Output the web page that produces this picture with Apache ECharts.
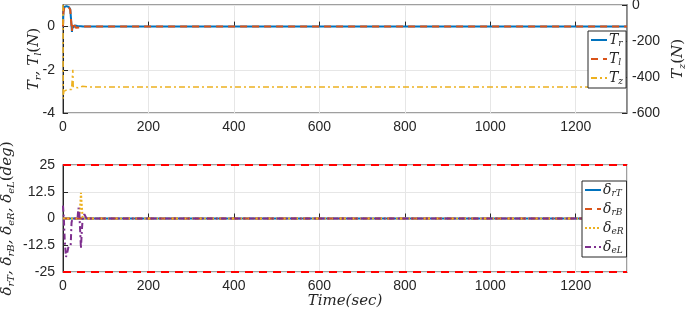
<!DOCTYPE html>
<html><head><meta charset="utf-8">
<script src="https://cdn.jsdelivr.net/npm/echarts@6/dist/echarts.min.js"></script>
<style>html,body{margin:0;padding:0;background:#fff}#c{width:685px;height:313px}</style>
</head><body><div id="c"></div>
<script>
// ---- data ----
const xTicks = [0, 200, 400, 600, 800, 1000, 1200];
const tT = [0, 1, 3, 8, 14, 17, 19, 21, 22, 24, 27, 30, 34, 38, 42, 47, 55, 1320];
const Tr = [0, 0.7, 0.9, 0.95, 0.9, 0.8, 0.3, -0.25, 0.05, -0.05, 0.05, -0.03, 0.03, -0.03, 0.02, 0, 0, 0];
const Tl = [0, 0.65, 0.88, 0.93, 0.88, 0.78, 0.25, -0.2, 0.08, -0.08, 0.06, -0.05, 0.04, -0.04, 0.03, 0, 0, 0];
const tZ = [0, 0.5, 2, 10, 20, 22, 23, 24, 28, 35, 45, 60, 1320];
const Tz = [0, -520, -480, -470, -470, -460, -360, -455, -448, -460, -452, -455, -455];
const tD = [0, 2, 4, 7, 10, 13, 18, 20, 22, 34, 36, 38, 40, 42, 44, 46, 47, 50, 55, 1320];
const dRT = [0, 0, 0, 0, 0, 0, 0, 0, 0, 0, 0, 0, 0, 0, 0, 0, 0, 0, 0, 0];
const dRB = [0, 0, 0, 0, 0, 0, 0, 0, 0, 0, 0, 0, 0, 0, 0, 0, 0, 0, 0, 0];
const dER = [0, 0, 0, 0, 0, 0, 0, 0, 0, 0, 0, 1, 5, 12, 6, 0, 0, 0, 0, 0];
const dEL = [6, 0, -10, -18, -16, -13, -12.5, -2, 0, 0, 5, 3, -5, -14, -6, 0, 1, 2, 0, 0];
const tLim = [0, 1320];
const upper = [25, 25];
const lower = [-25, -25];

const pair = (t, v) => t.map((x, i) => [x, v[i]]);
const blue = '#0072BD', orange = '#D95319', yellow = '#EDB120', purple = '#7E2F8E';
const axisCol = '#262626', frameCol = '#808080';
const tickFont = {fontFamily: 'Liberation Sans', fontSize: 14, color: axisCol};
const plain = v => String(v);
const rich = {
  i: {fontFamily: 'DejaVu Serif', fontStyle: 'italic', fontSize: 15, color: axisCol},
  s: {fontFamily: 'DejaVu Serif', fontStyle: 'italic', fontSize: 10, color: axisCol, verticalAlign: 'bottom', padding: [8, 0, 0, 0]},
  n: {fontFamily: 'DejaVu Serif', fontSize: 15, color: axisCol}
};
const legRich = {
  i: {fontFamily: 'DejaVu Serif', fontStyle: 'italic', fontSize: 14, color: axisCol},
  s: {fontFamily: 'DejaVu Serif', fontStyle: 'italic', fontSize: 9, color: axisCol, verticalAlign: 'bottom', padding: [7, 0, 0, 0]}
};
const legNames = {
  'Tr': '{i|T}{s|r}', 'Tl': '{i|T}{s|l}', 'Tz': '{i|T}{s|z}',
  'drT': '{i|δ}{s|rT}', 'drB': '{i|δ}{s|rB}', 'deR': '{i|δ}{s|eR}', 'deL': '{i|δ}{s|eL}'
};
const xAxisBase = (gi, showName) => ({
  type: 'value', gridIndex: gi, min: 0, max: 1320, interval: 200,
  axisLine: {show: false}, axisTick: {show: true, inside: true, length: 5, lineStyle: {color: axisCol}},
  axisLabel: Object.assign({margin: 7, showMaxLabel: false, formatter: plain}, tickFont),
  splitLine: {show: true, lineStyle: {color: '#e6e6e6', width: 1}},
  name: showName ? '{i|Time(sec)}' : '', nameLocation: 'middle', nameGap: 22, nameMoveOverlap: false,
  nameTextStyle: {rich: rich}
});
const legendBase = {
  orient: 'vertical', itemGap: 4, itemWidth: 16, itemHeight: 10,
  padding: [2, 3, 2, 2], borderColor: axisCol, borderWidth: 1, backgroundColor: '#fff',
  itemStyle: {opacity: 0},
  formatter: n => legNames[n], textStyle: {rich: legRich, padding: [0, 0, 0, -3]}
};
const chart = echarts.init(document.getElementById('c'), null, {renderer: 'canvas'});
chart.setOption({
  animation: false,
  grid: [
    {left: 63, right: 58, top: 5, height: 108, show: true, borderColor: frameCol, borderWidth: 1.5, backgroundColor: 'transparent', containLabel: false, outerBoundsMode: 'none'},
    {left: 63, right: 58, top: 165, height: 107, show: true, borderColor: frameCol, borderWidth: 1.5, backgroundColor: 'transparent', containLabel: false, outerBoundsMode: 'none'}
  ],
  xAxis: [xAxisBase(0, false), xAxisBase(1, true)],
  yAxis: [
    {type: 'value', gridIndex: 0, min: -4, max: 1, interval: 2, position: 'left',
     axisLine: {show: true, lineStyle: {color: axisCol, width: 1}},
     axisTick: {show: true, inside: true, length: 5, lineStyle: {color: axisCol}},
     axisLabel: Object.assign({margin: 8, showMaxLabel: false}, tickFont),
     splitLine: {show: true, lineStyle: {color: '#e6e6e6'}},
     name: '{i|T}{s|r}{i|, T}{s|l}{n|(}{i|N}{n|)}', nameLocation: 'middle', nameGap: 20, nameRotate: 90, nameMoveOverlap: false,
     nameTextStyle: {rich: rich}},
    {type: 'value', gridIndex: 0, min: -600, max: 0, interval: 200, position: 'right',
     axisLine: {show: true, lineStyle: {color: frameCol, width: 1.5}},
     axisTick: {show: true, inside: true, length: 5, lineStyle: {color: axisCol}},
     axisLabel: Object.assign({margin: 5}, tickFont),
     splitLine: {show: false},
     name: '{i|T}{s|z}{n|(}{i|N}{n|)}', nameLocation: 'middle', nameGap: 42, nameRotate: 90, nameMoveOverlap: false,
     nameTextStyle: {rich: rich}},
    {type: 'value', gridIndex: 1, min: -25, max: 25, interval: 12.5,
     axisLine: {show: true, lineStyle: {color: axisCol, width: 1}},
     axisTick: {show: true, inside: true, length: 5, lineStyle: {color: axisCol}},
     axisLabel: Object.assign({margin: 8}, tickFont),
     splitLine: {show: true, lineStyle: {color: '#e6e6e6'}},
     name: '{i|δ}{s|rT}{i|, δ}{s|rB}{i|, δ}{s|eR}{i|, δ}{s|eL}{n|(}{i|deg}{n|)}', nameLocation: 'middle', nameGap: 47, nameRotate: 90, nameMoveOverlap: false,
     nameTextStyle: {rich: rich}}
  ],
  legend: [
    Object.assign({data: ['Tr', 'Tl', 'Tz'], left: 588, top: 31}, legendBase),
    Object.assign({data: ['drT', 'drB', 'deR', 'deL'], left: 582, top: 181}, legendBase)
  ],
  series: [
    {name: 'Tr', type: 'line', xAxisIndex: 0, yAxisIndex: 0, data: pair(tT, Tr), showSymbol: false, symbol: 'none',
     lineStyle: {color: blue, width: 2}, itemStyle: {color: blue}},
    {name: 'Tl', type: 'line', xAxisIndex: 0, yAxisIndex: 0, data: pair(tT, Tl), showSymbol: false, symbol: 'none',
     lineStyle: {color: orange, width: 2, type: [7, 5]}, itemStyle: {color: orange}},
    {name: 'Tz', type: 'line', xAxisIndex: 0, yAxisIndex: 1, data: pair(tZ, Tz), showSymbol: false, symbol: 'none',
     lineStyle: {color: yellow, width: 1.5, type: [6, 3, 2, 3]}, itemStyle: {color: yellow}},
    {name: 'upper', type: 'line', xAxisIndex: 1, yAxisIndex: 2, data: pair(tLim, upper), showSymbol: false, symbol: 'none', clip: false,
     lineStyle: {color: '#FF0000', width: 2, type: [8, 6]}, z: 5},
    {name: 'lower', type: 'line', xAxisIndex: 1, yAxisIndex: 2, data: pair(tLim, lower), showSymbol: false, symbol: 'none', clip: false,
     lineStyle: {color: '#FF0000', width: 2, type: [8, 6]}, z: 5},
    {name: 'drT', type: 'line', xAxisIndex: 1, yAxisIndex: 2, data: pair(tD, dRT), showSymbol: false, symbol: 'none',
     lineStyle: {color: blue, width: 2}, itemStyle: {color: blue}},
    {name: 'drB', type: 'line', xAxisIndex: 1, yAxisIndex: 2, data: pair(tD, dRB), showSymbol: false, symbol: 'none',
     lineStyle: {color: orange, width: 2, type: [7, 5]}, itemStyle: {color: orange}},
    {name: 'deR', type: 'line', xAxisIndex: 1, yAxisIndex: 2, data: pair(tD, dER), showSymbol: false, symbol: 'none',
     lineStyle: {color: yellow, width: 2, type: [2, 2]}, itemStyle: {color: yellow}},
    {name: 'deL', type: 'line', xAxisIndex: 1, yAxisIndex: 2, data: pair(tD, dEL), showSymbol: false, symbol: 'none',
     lineStyle: {color: purple, width: 2, type: [6, 3, 2, 3]}, itemStyle: {color: purple}}
  ]
});
</script></body></html>
